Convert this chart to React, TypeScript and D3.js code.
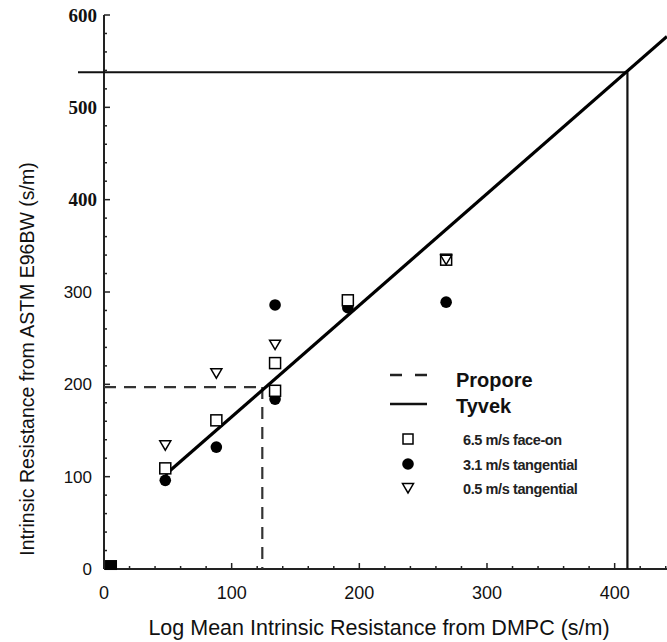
import React from "react";
import * as d3 from "d3";

const squareX = [48, 88, 134, 134, 191, 268];
const squareY = [109, 161, 223, 193, 291, 335];
const circleX = [48, 88, 134, 134, 191, 268];
const circleY = [96, 132, 286, 184, 283, 289];
const triX = [48, 88, 134, 268];
const triY = [134, 212, 243, 335];
const fitX = [48, 441];
const fitSlope = 1.208;
const fitIntercept0 = 102; // value at x=48
const tyvek = { x: 410, y: 538 };
const propore = { x: 124, y: 197 };
const xTicks = [0, 100, 200, 300, 400];
const yTicks = [0, 100, 200, 300, 400, 500, 600];
const legendItems = ["6.5 m/s face-on", "3.1 m/s tangential", "0.5 m/s tangential"];

export default function App() {
  const W = 667, H = 642;
  const x = d3.scaleLinear().domain([0, 441]).range([104, 667]);
  const y = d3.scaleLinear().domain([0, 600]).range([569, 15]);
  const xMinor = d3.range(0, 441, 20);
  const yMinor = d3.range(0, 601, 20);
  const fitLine = d3.line<number>().x((d) => x(d)).y((d) => y(fitIntercept0 + (d - fitX[0]) * fitSlope));
  const tri = (cx: number, cy: number, s: number) =>
    `M${cx - s},${cy - s * 0.8}L${cx + s},${cy - s * 0.8}L${cx},${cy + s * 0.9}Z`;
  const sans = "Liberation Sans, Arial, sans-serif";
  const serif = "Liberation Serif, Times New Roman, serif";
  return (
    <svg width={W} height={H} style={{ position: "absolute", left: 0, top: 0, background: "#fff" }}>
      {/* axes */}
      <line x1={x(0)} x2={x(0)} y1={y(0)} y2={y(600)} stroke="#222" strokeWidth={2} />
      <line x1={x(0)} x2={W} y1={y(0)} y2={y(0)} stroke="#222" strokeWidth={2} />
      {yMinor.map((v) => (
        <line key={"ym" + v} x1={x(0)} x2={x(0) + (v % 100 === 0 ? 6 : 3)} y1={y(v)} y2={y(v)} stroke="#222" strokeWidth={1.5} />
      ))}
      {xMinor.map((v) => (
        <line key={"xm" + v} x1={x(v)} x2={x(v)} y1={y(0)} y2={y(0) - (v % 100 === 0 ? 6 : 3)} stroke="#222" strokeWidth={1.5} />
      ))}
      {yTicks.map((v) => (
        <text key={"yl" + v} x={v >= 400 ? 97 : 92} y={y(v)} dy="0.35em" textAnchor="end"
          fontFamily={v >= 400 ? serif : sans} fontWeight={v >= 400 ? "bold" : "normal"}
          fontSize={v >= 400 ? 19 : 17} fill="#111">{v}</text>
      ))}
      {xTicks.map((v) => (
        <text key={"xl" + v} x={x(v)} y={599} textAnchor="middle" fontFamily={sans} fontSize={18} fill="#111">{v}</text>
      ))}
      <text x={379} y={635} textAnchor="middle" fontFamily={sans} fontSize={21.5} fill="#111">
        Log Mean Intrinsic Resistance from DMPC (s/m)
      </text>
      <text transform="translate(34,359) rotate(-90)" textAnchor="middle" fontFamily={sans} fontSize={19.5} fill="#111">
        Intrinsic Resistance from ASTM E96BW (s/m)
      </text>
      {/* Tyvek lines */}
      <line x1={78} x2={x(tyvek.x)} y1={y(tyvek.y)} y2={y(tyvek.y)} stroke="#111" strokeWidth={2.2} />
      <line x1={x(tyvek.x)} x2={x(tyvek.x)} y1={y(tyvek.y)} y2={y(0)} stroke="#111" strokeWidth={2.2} />
      {/* Propore dashed */}
      <line x1={x(0)} x2={x(propore.x)} y1={y(propore.y)} y2={y(propore.y)} stroke="#333" strokeWidth={2.2} strokeDasharray="12,8" />
      <line x1={x(propore.x)} x2={x(propore.x)} y1={y(propore.y)} y2={y(0)} stroke="#333" strokeWidth={2.2} strokeDasharray="12,8" />
      {/* fit line */}
      <path d={fitLine(fitX) || ""} stroke="#000" strokeWidth={3.2} fill="none" />
      {/* origin marker */}
      <rect x={x(5.5) - 6} y={y(4.3) - 5} width={12} height={10} fill="#000" />
      {/* markers */}
      {circleX.map((v, i) => (
        <circle key={"c" + i} cx={x(v)} cy={y(circleY[i])} r={5.8} fill="#000" />
      ))}
      {squareX.map((v, i) => (
        <rect key={"s" + i} x={x(v) - 5.5} y={y(squareY[i]) - 5.5} width={11} height={11} fill="#fff" stroke="#000" strokeWidth={1.5} />
      ))}
      {triX.map((v, i) => (
        <path key={"t" + i} d={tri(x(v), y(triY[i]), 5.5)} fill="#fff" stroke="#000" strokeWidth={1.5} />
      ))}
      {/* legend */}
      <line x1={390} x2={427} y1={375} y2={375} stroke="#222" strokeWidth={2.5} strokeDasharray="12,13" />
      <text x={456} y={387} fontFamily={sans} fontWeight="bold" fontSize={20} fill="#111">Propore</text>
      <line x1={390} x2={427} y1={404} y2={404} stroke="#111" strokeWidth={2.5} />
      <text x={456} y={413} fontFamily={sans} fontWeight="bold" fontSize={20} fill="#111">Tyvek</text>
      <rect x={403} y={434} width={10} height={10} fill="#fff" stroke="#000" strokeWidth={1.5} />
      <circle cx={408} cy={464} r={5.8} fill="#000" />
      <path d={tri(408, 488, 5.5)} fill="#fff" stroke="#000" strokeWidth={1.5} />
      {legendItems.map((t, i) => (
        <text key={t} x={463} y={445 + i * 24.5} fontFamily={sans} fontSize={14.5} fontWeight="bold" letterSpacing={-0.4} fill="#222">{t}</text>
      ))}
    </svg>
  );
}
